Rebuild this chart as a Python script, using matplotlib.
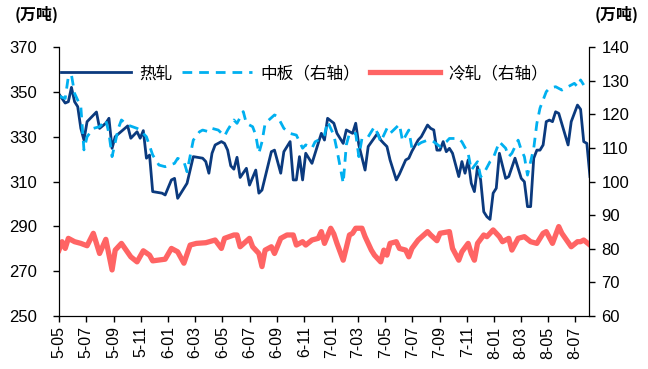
import numpy as np
import pandas as pd
import matplotlib
matplotlib.use("Agg")
import matplotlib.pyplot as plt

plt.rcParams['font.family'] = ['Liberation Sans', 'Noto Sans CJK SC', 'DejaVu Sans']

# weekly data, week index counted from 2015-05-01
start = "2015-05-01"

hr_weeks = [0, 2, 3, 4, 5, 6, 7, 8, 9, 12, 13, 15, 16, 17, 18, 22, 23, 25, 26, 27,
            28, 29, 30, 33, 34, 36, 37, 38, 41, 43, 46, 47, 48, 49, 50, 52, 53, 54, 55, 56,
            57, 58, 60, 61, 63, 64, 65, 68, 69, 71, 72, 74, 75, 76, 77, 78, 79, 81, 84, 85,
            86, 88, 89, 91, 92, 94, 95, 96, 98, 99, 102, 103, 104, 105, 106, 108, 109, 111, 112, 113,
            115, 116, 118, 119, 120, 121, 122, 123, 124, 125, 126, 128, 129, 130, 131, 132, 133, 134, 135, 136,
            137, 138, 139, 140, 141, 143, 144, 146, 148, 149, 150, 151, 152, 153, 154, 155, 156, 157, 158, 159,
            160, 163, 164, 166, 167, 168, 169, 170]
hr_vals = [349, 345, 345.6, 352, 345.6, 343.4, 333.7, 328.5, 336.7, 341, 333.7, 336, 338.2, 324.8, 330, 334.8, 329.3, 332.2, 329.3, 332.7,
           320.4, 321.8, 305.5, 304.8, 304, 310.7, 311.4, 302.5, 309.2, 321.1, 320.4, 318.9, 313.7, 322.6, 326.3, 327.8, 327, 324, 317, 315.5,
           320.8, 311.8, 315.9, 308.4, 315.1, 304.8, 306.2, 323.3, 324, 313.7, 323.3, 327.8, 310.7, 310.7, 321.1, 310.7, 322.6, 318.1, 331.5, 328.5,
           338.2, 336, 331.5, 327, 333, 331.5, 336, 326.3, 315.1, 325.6, 331.5, 328.5, 327, 325.6, 319.6, 310.7, 313.3, 319.6, 320.4, 323.5,
           328.5, 330, 335.2, 333.7, 333, 324, 324, 327.8, 323.3, 324.8, 322.6, 312.2, 318.9, 313.7, 319.6, 309.2, 305.5, 316.6, 310.7, 296.5,
           294.3, 293.1, 304.8, 307, 322.6, 311.4, 312.2, 320.4, 311.4, 309.9, 298.8, 298.8, 320.4, 324, 324, 326.3, 336.7, 337.4, 336.7, 341.1,
           340.4, 326.3, 336.7, 344.1, 342.2, 327.8, 327, 312.2]

mp_weeks = [0, 2, 3, 4, 5, 7, 8, 9, 11, 13, 15, 16, 17, 19, 20, 22, 25, 26, 28, 30,
            32, 34, 37, 38, 40, 41, 43, 45, 46, 48, 49, 51, 53, 54, 55, 56, 57, 59, 60, 62,
            63, 64, 65, 66, 69, 70, 72, 74, 76, 78, 79, 81, 82, 84, 85, 86, 88, 89, 91, 92,
            93, 95, 96, 97, 99, 101, 102, 103, 105, 106, 109, 110, 112, 113, 114, 116, 118, 120, 122, 124,
            125, 127, 128, 129, 131, 132, 134, 135, 136, 138, 139, 141, 143, 144, 145, 147, 148, 149, 150, 152,
            153, 154, 156, 157, 159, 161, 163, 165, 166, 167, 168]
mp_vals = [125.4, 124.7, 131.2, 131.7, 126.2, 122.2, 109.4, 113.3, 115.8, 116.3, 118.3, 114.3, 107.4, 115.8, 118.3, 116.8, 115.8, 115.3, 113.3, 107.9,
           104.9, 104.4, 105.4, 106.9, 105.9, 102.9, 112.3, 114.8, 115.3, 114.8, 115.8, 115.3, 113.5, 115.3, 116.8, 118.3, 117.3, 120.8, 117.3, 116.3,
           113.8, 108.4, 111.8, 117.3, 119.8, 119.3, 115.8, 114.3, 113.8, 109.9, 110.9, 109.9, 111.8, 112.8, 113.8, 117.8, 113.8, 109.4, 99.5, 110.9,
           114.3, 114.3, 107.4, 112.8, 113.3, 116.3, 114.3, 111.8, 115.8, 114.3, 117, 112, 115.3, 109.9, 110.4, 111.6, 112.3, 111.8, 110.4, 111.8,
           112.8, 112.8, 112.8, 111.8, 108.4, 103.4, 105.9, 101.4, 102.4, 105.9, 106.9, 111.8, 109.9, 107.4, 108.4, 112.3, 109.4, 107.4, 101.9, 109.9,
           117.3, 121.8, 126.7, 127.7, 128.2, 127.2, 128.2, 129.2, 128.2, 130.2, 128.7]

cr_weeks = [0, 1, 2, 3, 5, 7, 9, 11, 13, 15, 17, 18, 20, 23, 25, 27, 29, 30, 34, 36,
            38, 40, 42, 44, 47, 50, 52, 53, 56, 57, 58, 61, 62, 64, 65, 66, 68, 69, 71, 73,
            75, 76, 78, 79, 81, 83, 84, 85, 87, 88, 89, 91, 93, 94, 95, 97, 98, 100, 101, 103,
            104, 105, 106, 108, 109, 111, 112, 113, 115, 118, 119, 121, 122, 125, 126, 128, 129, 131, 132, 133,
            134, 136, 137, 139, 141, 142, 144, 145, 147, 149, 151, 153, 155, 156, 158, 160, 161, 164, 166, 167,
            168, 170]
cr_vals = [79.6, 82.1, 80.1, 83.1, 82.1, 81.6, 80.9, 84.6, 78.6, 82.8, 73.7, 79.6, 81.6, 77.6, 76.1, 79.4, 78.1, 76.4, 76.9, 80.1,
           79.1, 75.7, 81.1, 81.6, 81.8, 82.6, 80.1, 83.1, 84.1, 84.1, 80.6, 83.1, 80.6, 78.6, 74.7, 79.6, 80.6, 78.6, 83.1, 84.1,
           84.1, 81.1, 82.1, 81.1, 82.6, 83.1, 85.1, 81.6, 86.1, 84.4, 81.6, 76.6, 84.1, 84.6, 86.1, 86.1, 83.6, 79.6, 78.1, 76.1,
           79.6, 78.1, 81.6, 82.1, 80.1, 79.6, 77.6, 80.1, 82.6, 85.1, 84.1, 82.4, 84.6, 85.1, 80.1, 76.6, 79.1, 81.6, 78.6, 76.6,
           81.6, 84.1, 83.6, 85.6, 83.6, 82.1, 83.1, 79.6, 83.1, 83.6, 82.1, 81.6, 84.6, 85.1, 81.6, 86.6, 84.6, 80.6, 82.1, 82.1,
           82.6, 81.1]

xtick_labels = ["5-05", "5-07", "5-09", "5-11", "6-01", "6-03", "6-05", "6-07", "6-09", "6-11",
                "7-01", "7-03", "7-05", "7-07", "7-09", "7-11", "8-01", "8-03", "8-05", "8-07"]


def to_dates(weeks):
    return pd.Timestamp(start) + pd.to_timedelta(np.array(weeks) * 7, unit="D")


fig = plt.figure(figsize=(6.48, 3.69), dpi=100)
ax = fig.add_axes([0.091, 0.1436, 0.818, 0.729])
ax2 = ax.twinx()

l1, = ax.plot(to_dates(hr_weeks), hr_vals, color="#0b3a7e", lw=2, label="热轧")
l2, = ax2.plot(to_dates(mp_weeks), mp_vals, color="#00b0f0", lw=2, ls=(0, (3.5, 2.5)), label="中板（右轴）")
l3, = ax2.plot(to_dates(cr_weeks), cr_vals, color="#ff6464", lw=3.8, label="冷轧（右轴）")

ax.set_xlim(pd.Timestamp(start), to_dates([169.7])[0])
ax.set_ylim(250, 370)
ax.set_yticks(range(250, 371, 20))
ax2.set_ylim(60, 140)
ax2.set_yticks(range(60, 141, 10))

ticks = pd.date_range("2015-05-01", "2018-07-01", freq="2MS")
ax.set_xticks(ticks)
ax.set_xticklabels(xtick_labels, rotation=90)

for a in (ax, ax2):
    a.spines["top"].set_visible(False)
    a.tick_params(labelsize=12, length=4, width=1, direction="out")
ax.tick_params(axis="y", pad=12)
ax2.tick_params(axis="y", pad=5)
ax.tick_params(axis="x", labelsize=11.5)

fig.text(0.022, 0.945, "(万吨)", fontsize=11.5, fontweight="bold", family=["Noto Sans CJK SC"])
fig.text(0.985, 0.945, "(万吨)", fontsize=11.5, fontweight="bold", ha="right", family=["Noto Sans CJK SC"])

ax2.legend([l1, l2, l3], ["热轧", "中板（右轴）", "冷轧（右轴）"], loc="upper left",
           bbox_to_anchor=(-0.025, 0.988), ncol=3, frameon=False, handlelength=4.2,
           columnspacing=0.6, handletextpad=0.5, borderpad=0.4,
           prop={"family": "Noto Sans CJK SC", "size": 12})

fig.savefig("out.png", dpi=100)
